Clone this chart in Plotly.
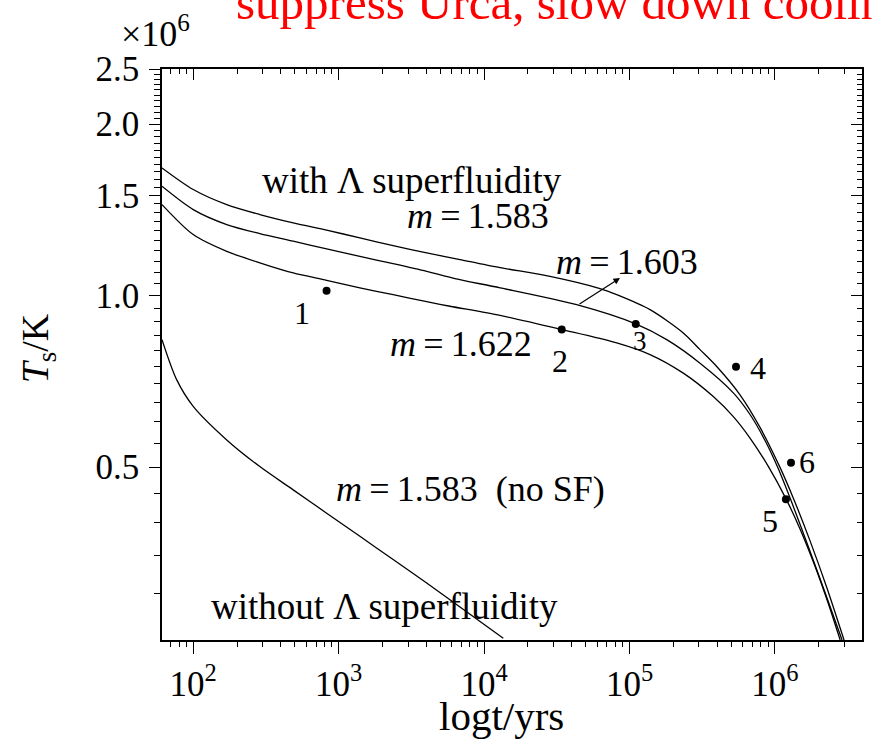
import numpy as np
import plotly.graph_objects as go

# Cooling curves: stellar age t [yr] vs surface temperature T_s [10^6 K]
t_m1583 = [61, 100, 170, 287, 487, 827, 1400, 2370, 4030, 6830,
           12900, 28400, 62700, 81700, 138400, 234400, 305400, 397900, 575400, 789900,
           1.084e6, 1.343e6, 1.744e6, 2.282e6, 2.987e6]
T_m1583 = [1.676, 1.536, 1.445, 1.388, 1.342, 1.303, 1.263, 1.224, 1.189, 1.157,
           1.120, 1.081, 1.029, 1.004, 0.945, 0.860, 0.804, 0.751, 0.6698, 0.5870,
           0.4994, 0.4400, 0.3710, 0.3064, 0.2485]

t_m1603 = [61, 100, 170, 287, 487, 827, 1400, 2370, 4030, 6308,
           12900, 43330, 110300, 180300, 305400, 517500, 674200, 855000, 1.050e6, 1.280e6,
           1.690e6, 2.211e6, 2.894e6]
T_m1603 = [1.556, 1.416, 1.333, 1.285, 1.246, 1.208, 1.172, 1.138, 1.103, 1.071,
           1.032, 0.964, 0.892, 0.837, 0.761, 0.675, 0.6184, 0.5568, 0.4982, 0.4393,
           0.3634, 0.3011, 0.2485]

t_m1622 = [61, 100, 170, 287, 487, 827, 1400, 2370, 4030, 5830,
           12900, 34180, 81700, 138400, 234400, 376900, 517500, 674200, 896600, 1.192e6,
           1.488e6, 1.887e6, 2.319e6, 2.809e6]
T_m1622 = [1.445, 1.280, 1.196, 1.142, 1.096, 1.064, 1.032, 1.004, 0.976, 0.958,
           0.923, 0.872, 0.826, 0.788, 0.731, 0.665, 0.6131, 0.5622, 0.5023, 0.4397,
           0.3894, 0.3349, 0.2889, 0.2485]

# m = 1.583 without Lambda superfluidity
t_noSF = [61, 76.9, 100, 170, 287, 487, 827, 1400, 2370, 4030, 6830, 13550]
T_noSF = [0.837, 0.712, 0.639, 0.558, 0.501, 0.456, 0.415, 0.378, 0.344, 0.313, 0.284, 0.2503]

# Observed sources
obs_t = [826, 34200, 110400, 540000, 1.19e6, 1.29e6]
obs_T = [1.02, 0.872, 0.892, 0.750, 0.439, 0.509]

x_major = [1e2, 1e3, 1e4, 1e5, 1e6]
x_major_text = ["10<sup>2</sup>", "10<sup>3</sup>", "10<sup>4</sup>", "10<sup>5</sup>", "10<sup>6</sup>"]
y_major = [0.5, 1.0, 1.5, 2.0, 2.5]
y_major_text = ["0.5", "1.0", "1.5", "2.0", "2.5"]

x_minor = [m * 10 ** e for e in range(1, 7) for m in range(2, 10)]
y_minor = [round(v, 2) for v in np.arange(0.30, 2.5, 0.05) if round(v, 2) not in y_major]

x_range = [np.log10(61), np.log10(3.97e6)]
y_range = [np.log10(0.2485), np.log10(2.5)]

SERIF = "Liberation Serif, Times New Roman, serif"
INK = "black"

fig = go.Figure()
line = dict(color=INK, width=1.3, shape="spline", smoothing=0.8)
for tt, TT in [(t_m1583, T_m1583), (t_m1603, T_m1603), (t_m1622, T_m1622), (t_noSF, T_noSF)]:
    fig.add_trace(go.Scatter(x=tt, y=TT, mode="lines", line=line, hoverinfo="skip", showlegend=False))

fig.add_trace(go.Scatter(x=obs_t, y=obs_T, mode="markers",
                         marker=dict(color=INK, size=8), showlegend=False))

# empty trace so the mirrored top/right axes are drawn
fig.add_trace(go.Scatter(x=[], y=[], xaxis="x2", yaxis="y2", showlegend=False))

tickfont = dict(family=SERIF, size=35, color=INK)
fig.update_layout(
    width=872, height=742,
    margin=dict(l=162, r=10, t=69, b=102),
    paper_bgcolor="white", plot_bgcolor="white",
    xaxis=dict(type="log", range=x_range, tickmode="array", tickvals=x_major, ticktext=x_major_text,
               ticks="outside", ticklen=12, tickwidth=1.3, tickcolor=INK,
               showline=True, linecolor=INK, linewidth=1.6, showgrid=False, zeroline=False,
               tickfont=tickfont,
               minor=dict(tickmode="array", tickvals=x_minor, ticks="outside", ticklen=5,
                          tickwidth=1.1, tickcolor=INK, showgrid=False)),
    yaxis=dict(type="log", range=y_range, tickmode="array", tickvals=y_major, ticktext=y_major_text,
               ticks="outside", ticklen=11, tickwidth=1.3, tickcolor=INK, ticklabelstandoff=3,
               showline=True, linecolor=INK, linewidth=1.6, showgrid=False, zeroline=False,
               tickfont=tickfont,
               minor=dict(tickmode="array", tickvals=y_minor, ticks="outside", ticklen=6,
                          tickwidth=1.1, tickcolor=INK, showgrid=False)),
    xaxis2=dict(type="log", range=x_range, overlaying="x", side="top", anchor="y",
                tickmode="array", tickvals=x_major, ticks="inside", ticklen=11, tickwidth=1.3,
                tickcolor=INK, showticklabels=False, showline=True, linecolor=INK, linewidth=1.6,
                showgrid=False, zeroline=False,
                minor=dict(tickmode="array", tickvals=x_minor, ticks="inside", ticklen=5,
                           tickwidth=1.1, tickcolor=INK, showgrid=False)),
    yaxis2=dict(type="log", range=y_range, overlaying="y", side="right", anchor="x",
                tickmode="array", tickvals=y_major, ticks="inside", ticklen=11, tickwidth=1.3,
                tickcolor=INK, showticklabels=False, showline=True, linecolor=INK, linewidth=1.6,
                showgrid=False, zeroline=False,
                minor=dict(tickmode="array", tickvals=y_minor, ticks="inside", ticklen=5,
                           tickwidth=1.1, tickcolor=INK, showgrid=False)),
)

def label(text, x, y, size=34, color=INK, xanchor="center", yanchor="middle", **kw):
    fig.add_annotation(text=text, x=x, y=y, xref="paper", yref="paper", showarrow=False,
                       xanchor=xanchor, yanchor=yanchor,
                       font=dict(family=SERIF, size=size, color=color), **kw)

label("with \u039b superfluidity", 0.3571, 0.8056, size=37)
label("<i>m</i>\u2009=\u20091.583", 0.4514, 0.7426, size=36)
label("<i>m</i>\u2009=\u20091.603", 0.6643, 0.662, size=36)
label("<i>m</i>\u2009=\u20091.622", 0.4271, 0.5184, size=36)
label("<i>m</i>\u2009=\u20091.583\u2002(no SF)", 0.4414, 0.2645, size=36)
label("without \u039b superfluidity", 0.3179, 0.0578, size=37)

for txt, xp, yp, sz in [("1", 0.2, 0.5727, 32), ("2", 0.5686, 0.4886, 32), ("3", 0.6829, 0.5236, 27),
                        ("4", 0.8514, 0.4764, 32), ("5", 0.8686, 0.2084, 32), ("6", 0.9214, 0.3117, 32)]:
    label(txt, xp, yp, size=sz)

# arrow pointing from the m=1.603 curve to its label
fig.add_annotation(x=0.6543, y=0.634, xref="paper", yref="paper", ax=-42, ay=27,
                   showarrow=True, arrowhead=2, arrowsize=1.1, arrowwidth=1.2, arrowcolor=INK, text="")

label("\u00d710<sup>6</sup>", -0.01, 1.0665, size=36)
label("suppress Urca, slow down cooling", 0.1029, 1.064, size=49, color="red",
      xanchor="left", yanchor="bottom")
label("<i>T</i><sub>s</sub>/K", -0.177, 0.511, size=38, textangle=-90)
label("logt/yrs", 0.4857, -0.1331, size=41)

fig.write_html("out.html")
